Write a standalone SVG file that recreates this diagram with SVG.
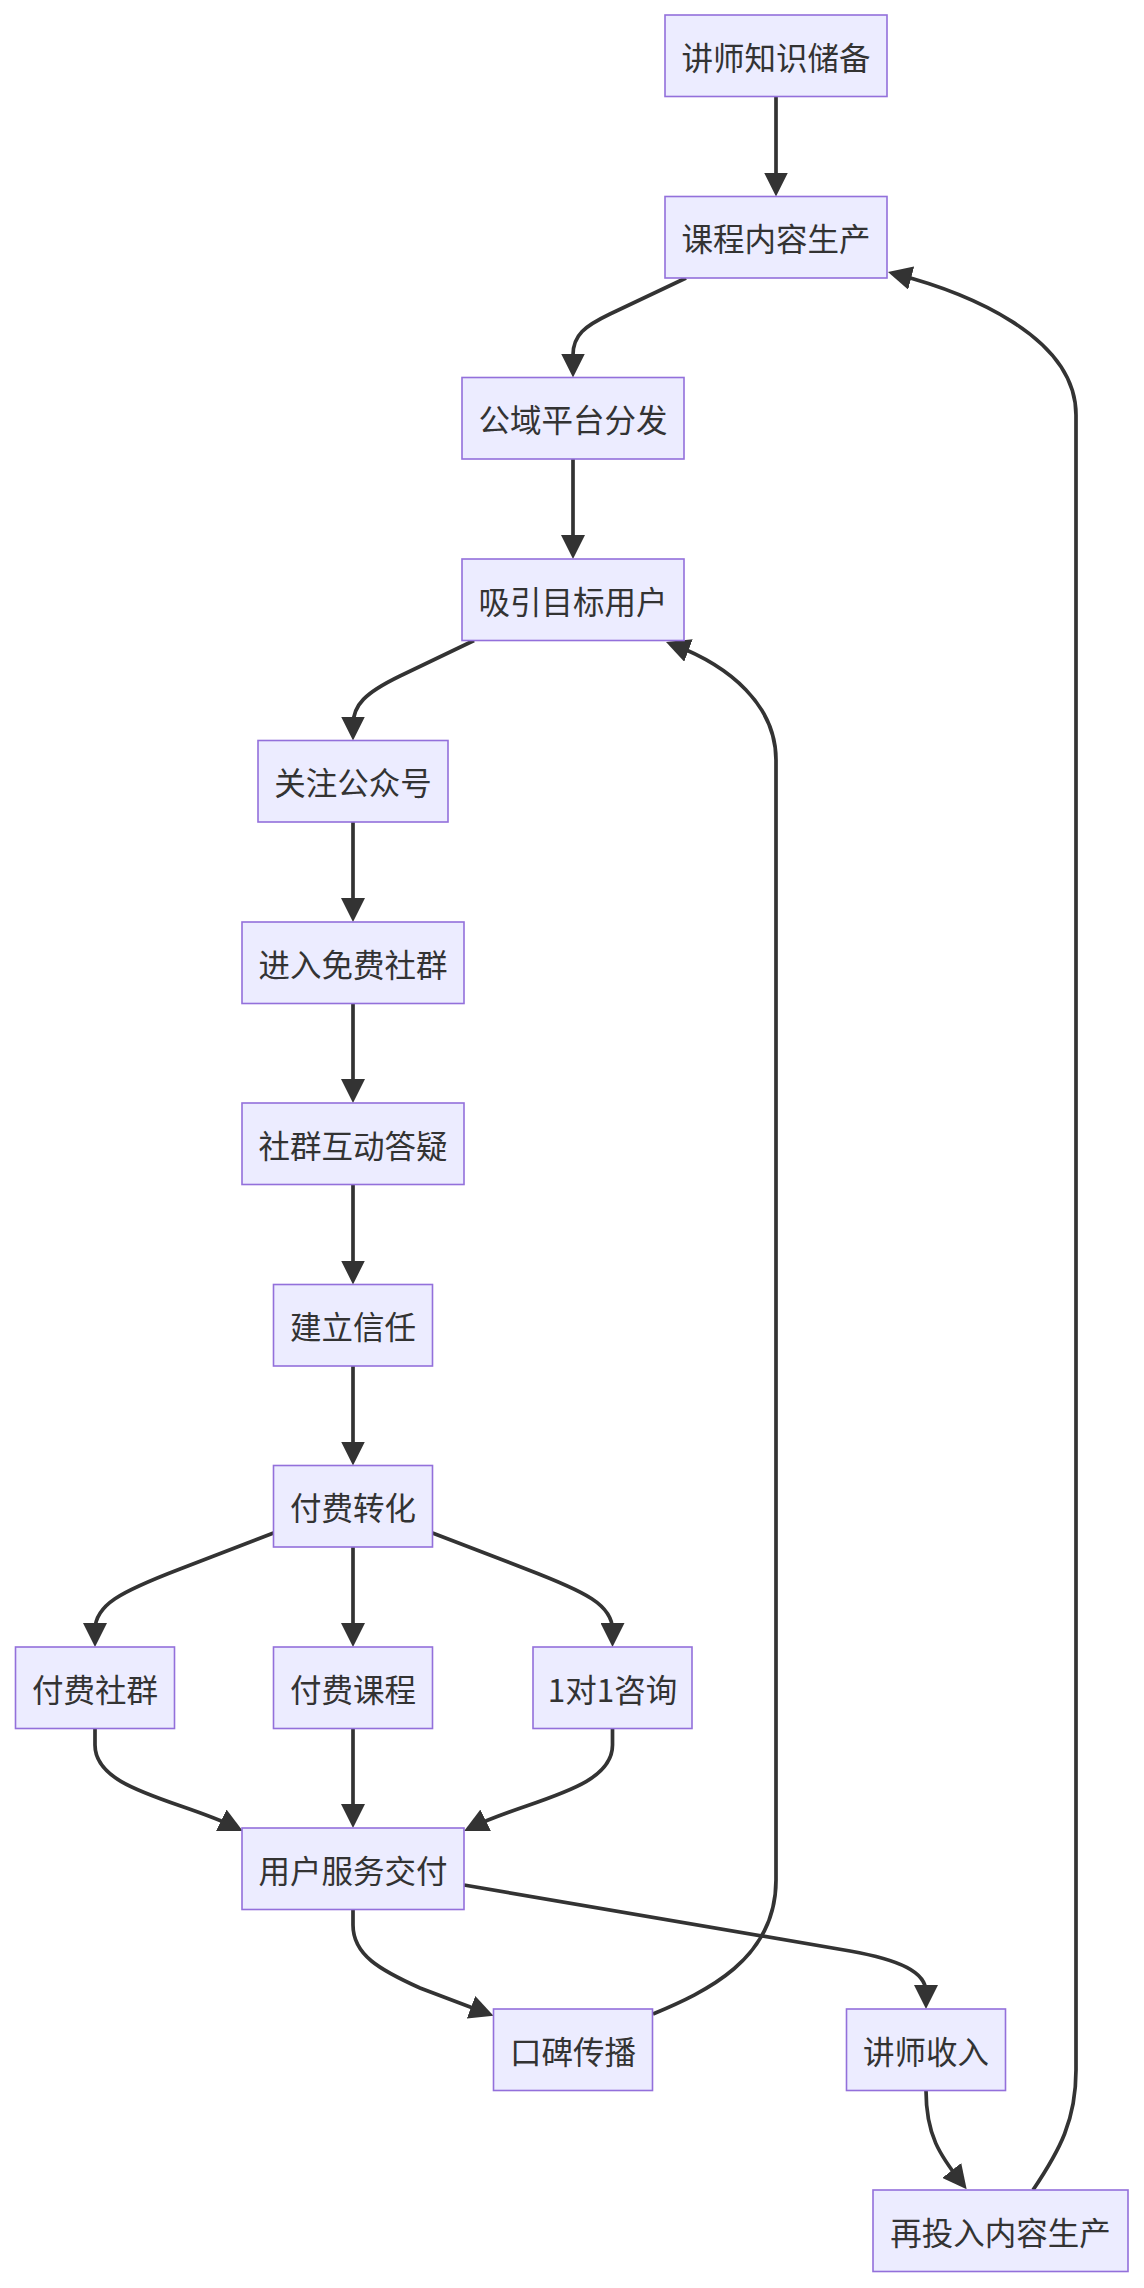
<svg xmlns="http://www.w3.org/2000/svg" width="1144" height="2288" viewBox="0 0 1144 2288">
<style>
.node rect{fill:#ECECFF;stroke:#9370DB;stroke-width:1.6}
.node text{font-family:"Noto Sans CJK SC","Noto Sans",sans-serif;font-size:31.5px;fill:#333333;text-anchor:middle;dominant-baseline:central}
.edges path{fill:none;stroke:#333333;stroke-width:3.7;marker-end:url(#arrow)}
</style>
<defs>
<marker id="arrow" markerUnits="userSpaceOnUse" markerWidth="24" markerHeight="24" viewBox="0 0 24 24" refX="16" refY="12" orient="auto">
<path d="M0,0 L24,12 L0,24 z" fill="#333333"/>
</marker>
</defs>
<rect width="1144" height="2288" fill="#ffffff"/>
<g class="edges">
<path d="M776,96.5 L776,188.5"/>
<path d="M686,278 L610,314 C585,326 573,335 573,355 L573,369.5"/>
<path d="M573,459 L573,551"/>
<path d="M474,640.5 L400,676 C365,693 353,705 353,725 L353,732.5"/>
<path d="M353,822 L353,914"/>
<path d="M353,1003.5 L353,1095"/>
<path d="M353,1184.5 L353,1276.5"/>
<path d="M353,1366 L353,1457.5"/>
<path d="M273.5,1533 L180,1569 C120,1592 95,1605 95,1630 L95,1639"/>
<path d="M353,1547 L353,1639"/>
<path d="M432.5,1533 L526,1569 C586,1592 612.5,1605 612.5,1630 L612.5,1639"/>
<path d="M95,1728.5 L95,1745 C95,1790 180,1800 235.6,1827.4"/>
<path d="M353,1728.5 L353,1820"/>
<path d="M612.5,1728.5 L612.5,1745 C612.5,1790 527,1800 471.3,1827.4"/>
<path d="M353,1909.5 L353,1925 C353,1955 380,1970 420,1988 L486,2013"/>
<path d="M464,1885 L850,1951 C900,1960 926,1972 926,1992 L926,2001"/>
<path d="M653,2014 C705,1992 776,1960 776,1880 L776,760 C776,705 729.6,666 673.5,644.8"/>
<path d="M926,2090.5 C926,2135 940,2155.5 961.7,2183"/>
<path d="M1033,2190 C1060,2150 1076,2120 1076,2070 L1076,415 C1076,335 963.5,291.5 895.7,274"/>
</g>
<g id="n1" class="node"><rect x="665" y="15" width="222" height="81.5"/><text x="776" y="55.75">讲师知识储备</text></g>
<g id="n2" class="node"><rect x="665" y="196.5" width="222" height="81.5"/><text x="776" y="237.25">课程内容生产</text></g>
<g id="n3" class="node"><rect x="462" y="377.5" width="222" height="81.5"/><text x="573" y="418.25">公域平台分发</text></g>
<g id="n4" class="node"><rect x="462" y="559" width="222" height="81.5"/><text x="573" y="599.75">吸引目标用户</text></g>
<g id="n5" class="node"><rect x="258" y="740.5" width="190" height="81.5"/><text x="353" y="781.25">关注公众号</text></g>
<g id="n6" class="node"><rect x="242" y="922" width="222" height="81.5"/><text x="353" y="962.75">进入免费社群</text></g>
<g id="n7" class="node"><rect x="242" y="1103" width="222" height="81.5"/><text x="353" y="1143.75">社群互动答疑</text></g>
<g id="n8" class="node"><rect x="273.5" y="1284.5" width="159" height="81.5"/><text x="353" y="1325.25">建立信任</text></g>
<g id="n9" class="node"><rect x="273.5" y="1465.5" width="159" height="81.5"/><text x="353" y="1506.25">付费转化</text></g>
<g id="n10" class="node"><rect x="15.5" y="1647" width="159" height="81.5"/><text x="95" y="1687.75">付费社群</text></g>
<g id="n11" class="node"><rect x="273.5" y="1647" width="159" height="81.5"/><text x="353" y="1687.75">付费课程</text></g>
<g id="n12" class="node"><rect x="533" y="1647" width="159" height="81.5"/><text x="612.5" y="1687.75">1对1咨询</text></g>
<g id="n13" class="node"><rect x="242" y="1828" width="222" height="81.5"/><text x="353" y="1868.75">用户服务交付</text></g>
<g id="n14" class="node"><rect x="493.5" y="2009" width="159" height="81.5"/><text x="573" y="2049.75">口碑传播</text></g>
<g id="n15" class="node"><rect x="846.5" y="2009" width="159" height="81.5"/><text x="926" y="2049.75">讲师收入</text></g>
<g id="n16" class="node"><rect x="873" y="2190" width="255" height="81.5"/><text x="1000.5" y="2230.75">再投入内容生产</text></g>
</svg>
